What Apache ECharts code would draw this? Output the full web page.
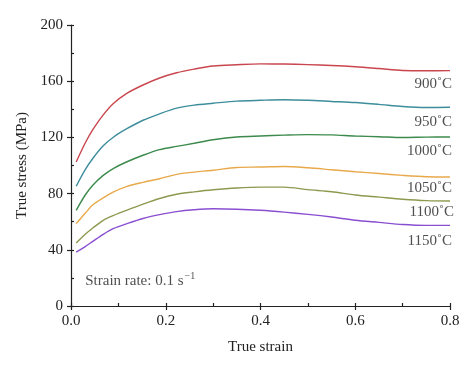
<!DOCTYPE html>
<html><head><meta charset="utf-8">
<script src="https://cdn.jsdelivr.net/npm/echarts@6/dist/echarts.min.js"></script>
<style>html,body{margin:0;padding:0;background:#fff}#c{width:474px;height:372px}</style>
</head><body><div id="c"></div>
<script>
const strain = [0.011, 0.03, 0.046, 0.068, 0.09, 0.117, 0.152, 0.187, 0.223, 0.26, 0.3, 0.35, 0.4, 0.45, 0.5, 0.55, 0.6, 0.65, 0.7, 0.75, 0.8];
const s900  = [102.5, 116, 125.5, 136, 144.3, 151.2, 157.3, 162.3, 166, 168.6, 170.8, 171.7, 172.3, 172.2, 171.8, 171.2, 170.3, 169, 167.6, 167.4, 167.5];
const s950  = [85.2, 97, 105, 114, 120.3, 126, 132.2, 136.8, 140.8, 143, 144.3, 145.8, 146.4, 146.8, 146.4, 145.6, 144.8, 143.5, 142, 141.3, 141.5];
const s1000 = [68.1, 79, 86, 93, 98, 102.5, 107.3, 111.3, 113.6, 115.8, 118.3, 120.3, 121, 121.6, 122, 121.8, 121, 120.5, 119.9, 120.2, 120.3];
const s1050 = [58.6, 66, 72, 77, 81.3, 85, 88, 90.6, 93.7, 95.3, 96.6, 98.6, 98.9, 99.3, 98.4, 97, 95.6, 94.3, 93, 92, 91.8];
const s1100 = [44.8, 51, 55.5, 61, 64.5, 68.1, 72.5, 76.5, 79.5, 81.2, 82.7, 84, 84.6, 84.6, 82.8, 81.3, 79, 77.5, 76, 75, 74.7];
const s1150 = [38.4, 42.3, 46, 51, 55.2, 58.5, 62.3, 65, 67.2, 68.5, 69.2, 68.9, 68.1, 66.8, 65.2, 63.3, 61, 59.5, 58, 57.4, 57.4];
const tempLabels = ['900˚C', '950˚C', '1000˚C', '1050˚C', '1100˚C', '1150˚C'];
const seriesData = [s900, s950, s1000, s1050, s1100, s1150];
const colors = ['#c9464e', '#3d8d9c', '#3c8a4c', '#e8a94c', '#8c9a50', '#8a4fd0'];
const xTicks = ['0.0', '0.2', '0.4', '0.6', '0.8'];
const yTicks = [0, 40, 80, 120, 160, 200];

const chart = echarts.init(document.getElementById('c'), null, {renderer: 'canvas'});
const font = 'Liberation Serif';
const fs = 15;
const axisLineStyle = {color: '#222', width: 1.2};
const grid = {left: 71, right: 24, top: 25, bottom: 66};
const series = seriesData.map((d, i) => ({
  type: 'line', xAxisIndex: 0, yAxisIndex: 0, smooth: 0.3, symbol: 'none',
  data: strain.map((x, j) => [x, d[j]]),
  lineStyle: {color: colors[i], width: 1.4}, z: 3
}));
const labelPts = [[0.8, 158], [0.8, 131], [0.8, 110], [0.8, 84], [0.8, 67], [0.8, 46]];
series.push({
  type: 'scatter', symbolSize: 0, silent: true,
  data: labelPts.map((p, i) => ({value: p, label: {formatter: tempLabels[i], offset: i === 4 ? [4, 0] : [2, 0]}})),
  label: {show: true, position: 'left', distance: 0, fontFamily: font, fontSize: fs, color: '#222', align: 'right'}
});
series.push({
  type: 'scatter', symbolSize: 0, silent: true,
  data: [{value: [0.03, 18]}],
  label: {show: true, position: 'right', distance: 0, color: '#222',
    formatter: '{a|Strain rate: 0.1 s}{b|−1}',
    rich: {a: {fontFamily: font, fontSize: fs, color: '#222'}, b: {fontFamily: font, fontSize: 10, color: '#222', verticalAlign: 'top', padding: [0, 0, 9, 1]}}}
});
chart.setOption({
  animation: false,
  grid: [grid, grid],
  xAxis: [
    {type: 'value', gridIndex: 0, min: 0, max: 0.8, interval: 0.2, name: 'True strain', nameLocation: 'middle', nameGap: 34,
     nameTextStyle: {fontFamily: font, fontSize: fs, color: '#222'},
     axisLine: {lineStyle: axisLineStyle}, axisTick: {show: true, length: 4, lineStyle: axisLineStyle},
     axisLabel: {fontFamily: font, fontSize: fs, color: '#222', margin: 8, formatter: v => v.toFixed(1)}, splitLine: {show: false}},
    {type: 'value', gridIndex: 1, min: 0, max: 0.8, interval: 0.1, position: 'bottom',
     axisLine: {show: false}, axisTick: {show: true, inside: true, length: 3, lineStyle: axisLineStyle},
     axisLabel: {show: false}, splitLine: {show: false}}
  ],
  yAxis: [
    {type: 'value', gridIndex: 0, min: 0, max: 200, interval: 40, name: 'True stress (MPa)', nameLocation: 'middle', nameGap: 39,
     nameTextStyle: {fontFamily: font, fontSize: fs, color: '#222'},
     axisLine: {show: true, lineStyle: axisLineStyle}, axisTick: {show: true, length: 4, lineStyle: axisLineStyle},
     axisLabel: {fontFamily: font, fontSize: fs, color: '#222', margin: 8}, splitLine: {show: false}},
    {type: 'value', gridIndex: 1, min: 0, max: 200, interval: 20, position: 'left',
     axisLine: {show: false}, axisTick: {show: true, inside: true, length: 3, lineStyle: axisLineStyle},
     axisLabel: {show: false}, splitLine: {show: false}}
  ],
  series: series
});
</script></body></html>
